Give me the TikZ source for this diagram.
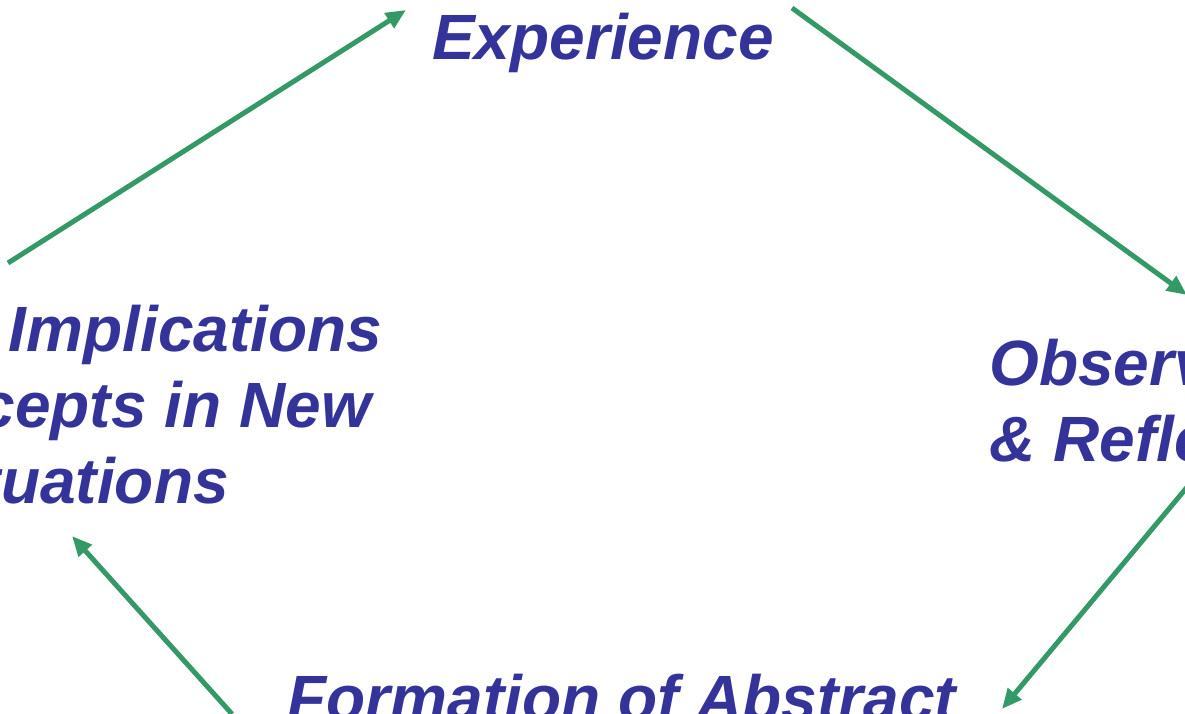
\documentclass[tikz,border=0pt]{standalone}
\usepackage{fontspec}
\setmainfont{Liberation Sans}
\usetikzlibrary{arrows.meta}
\definecolor{stagetext}{RGB}{51,51,153}
\definecolor{cyclegreen}{RGB}{51,153,102}
\begin{document}
\begin{tikzpicture}[x=1pt,y=-1pt,
  stage/.style={inner sep=0pt, text=stagetext, align=center,
    font=\fontsize{64}{76}\selectfont\bfseries\itshape},
  flow/.style={draw=cyclegreen, line width=5pt,
    -{Triangle[length=20pt,width=17pt]}}]
\useasboundingbox (0,0) rectangle (1185,714);
\clip (0,0) rectangle (1185,714);

% stages of the cycle (base = baseline of the last line)
\node[stage, anchor=base] (exp) at (603,60) {Experience};
\node[stage, anchor=base] (obs) at (1176,461) {Observation\\\& Reflection};
\node[stage, anchor=base] (abs) at (622,720) {Formation of Abstract};
\node[stage, anchor=base] (test) at (74,503) {Testing Implications\\of Concepts in New\\Situations};

% ends of the arrows
\coordinate (a1s) at (8,263);   \coordinate (a1e) at (406,10);
\coordinate (a2s) at (792,8);   \coordinate (a2e) at (1187,295);
\coordinate (a3s) at (1188,486); \coordinate (a3e) at (1002,709);
\coordinate (a4s) at (232,714); \coordinate (a4e) at (72,536);

\draw[flow] (a1s) -- (a1e);
\draw[flow] (a2s) -- (a2e);
\draw[flow] (a3s) -- (a3e);
\draw[flow] (a4s) -- (a4e);
\end{tikzpicture}
\end{document}
